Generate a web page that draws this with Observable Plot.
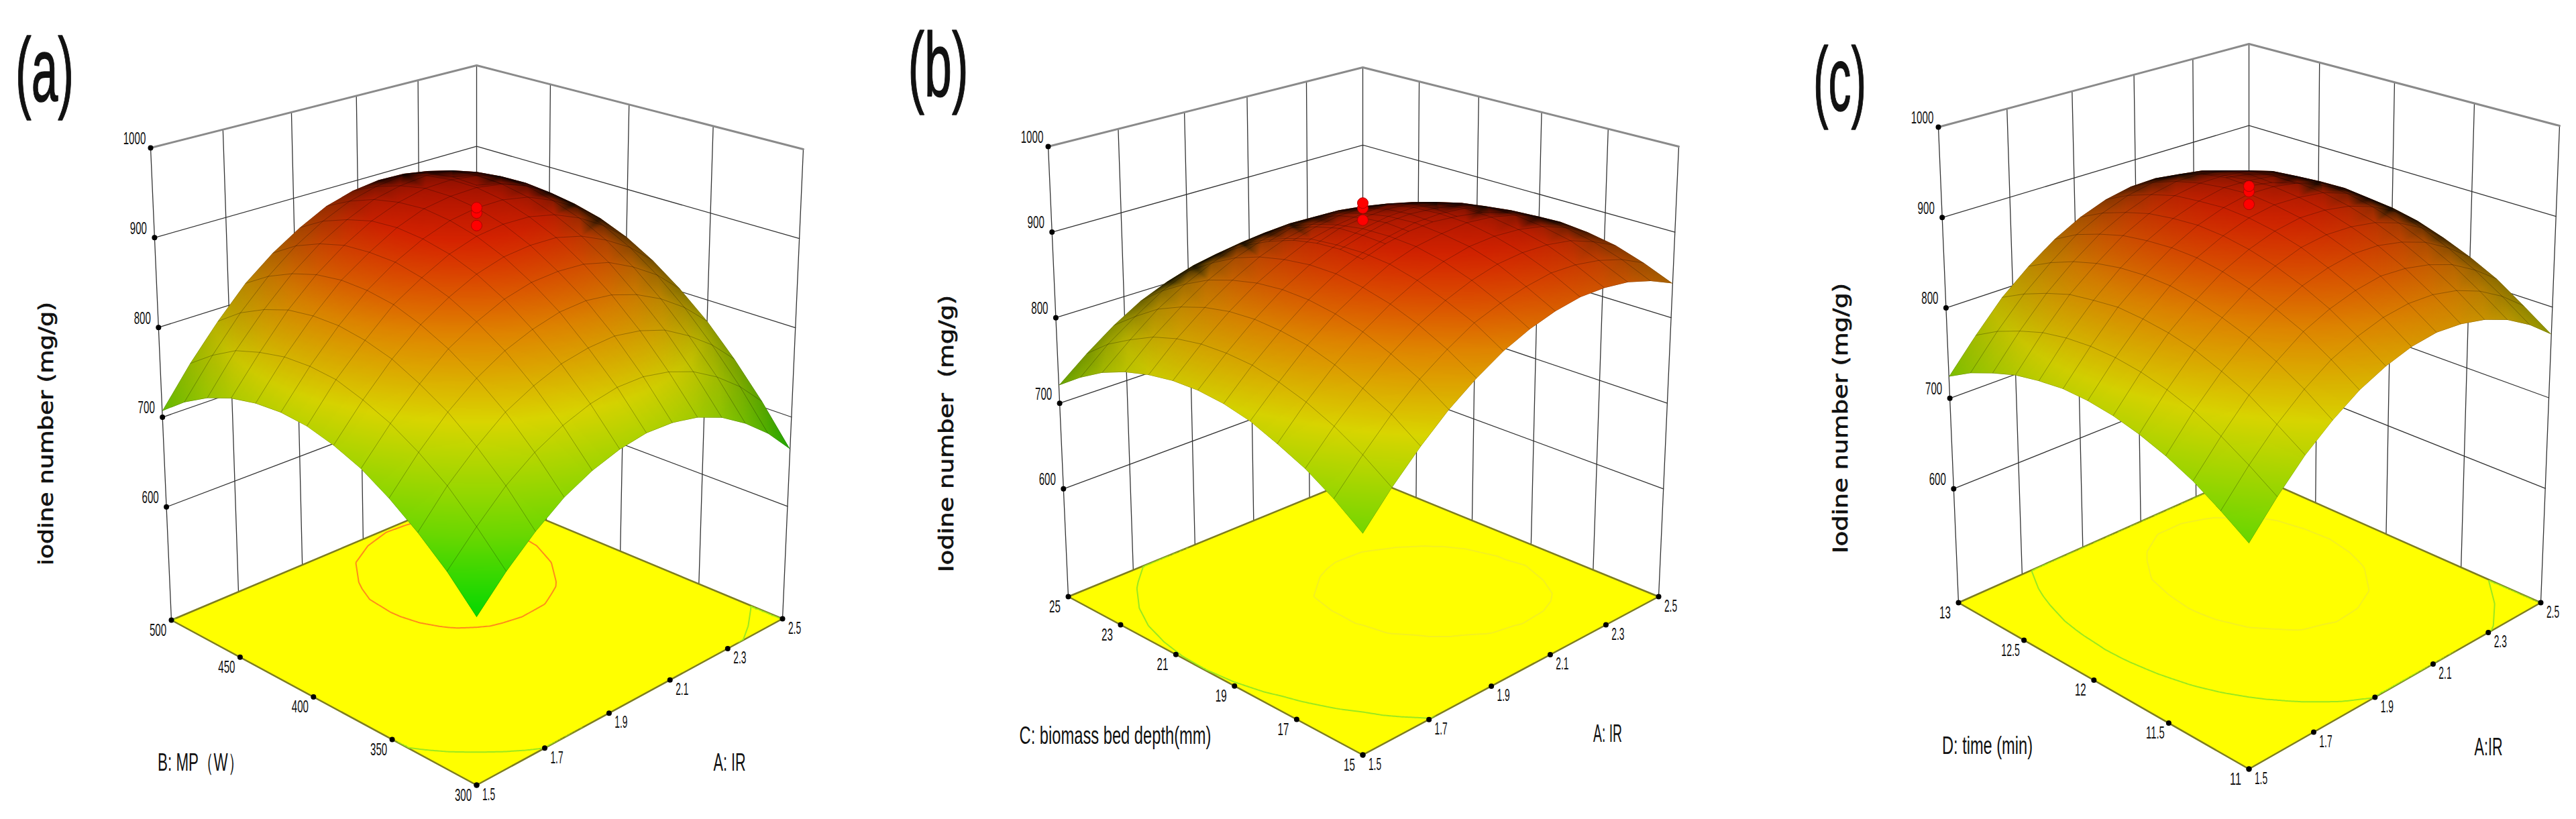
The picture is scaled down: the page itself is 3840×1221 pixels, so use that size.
<!DOCTYPE html>
<html><head><meta charset="utf-8">
<style>html,body{margin:0;padding:0;background:#fff}svg{display:block}</style>
<script src="https://cdn.jsdelivr.net/npm/d3@7"></script>
<script src="https://cdn.jsdelivr.net/npm/@observablehq/plot@0.6"></script>
</head><body><div id="chart"></div>
<script>
// ---- values ----
const zTicks = [600, 700, 800, 900, 1000];
const irTicks = [1.5, 1.7, 1.9, 2.1, 2.3, 2.5];
const mpTicks = [300, 350, 400, 450, 500];
const depthTicks = [15, 17, 19, 21, 23, 25];
const timeTicks = [11, 11.5, 12, 12.5, 13];
const designPoints = [914, 928, 934];
// rows: second factor low -> high; columns: A:IR 1.5 -> 2.5
const surfaceA = [
[642,674,701,723,738,748,753,752,746,734,716,693,664],
[674,706,735,757,773,784,790,790,784,773,756,734,706],
[700,735,763,787,803,815,821,823,818,808,791,770,743],
[722,757,787,811,829,841,849,851,847,837,822,802,776],
[740,775,805,831,849,863,871,873,871,863,848,829,803],
[752,788,820,846,865,880,889,892,891,883,869,851,826],
[760,798,829,857,876,892,902,906,905,898,885,867,844],
[763,801,834,862,883,899,910,915,915,909,896,879,857],
[761,800,834,863,884,902,914,919,920,915,904,887,865],
[755,794,830,859,882,900,912,919,920,916,906,890,870],
[744,785,820,850,874,892,906,913,916,913,903,889,869],
[728,769,806,837,862,881,895,903,907,904,896,882,863],
[707,749,786,819,844,864,880,889,893,892,884,871,852]];
const surfaceB = [
[706,741,772,799,821,839,852,861,866,866,862,853,840],
[729,763,794,820,841,859,870,878,883,882,877,868,854],
[748,781,810,836,857,873,885,893,896,895,890,879,865],
[762,795,824,849,869,885,896,903,905,903,897,886,871],
[774,805,834,858,877,893,903,908,911,908,901,890,874],
[781,812,839,863,882,896,905,911,912,909,901,888,872],
[784,814,841,864,882,895,904,909,910,905,897,884,867],
[783,813,839,861,878,892,899,903,904,898,889,876,858],
[778,808,833,854,871,883,890,894,893,887,878,863,844],
[770,799,823,844,860,871,878,880,879,873,862,847,828],
[758,785,810,829,844,856,861,863,861,854,842,827,807],
[741,769,791,811,825,835,840,842,839,831,820,802,782],
[721,747,770,789,802,812,816,817,813,805,792,775,753]];
const surfaceC = [
[696,729,758,781,800,813,822,826,824,818,807,791,770],
[715,748,777,801,820,833,842,846,845,839,828,812,791],
[732,765,795,818,838,851,860,865,863,857,847,831,811],
[745,779,808,832,851,865,874,879,878,872,862,846,826],
[755,789,819,842,862,876,886,890,889,884,874,859,838],
[762,796,826,850,870,884,894,899,898,893,883,868,848],
[766,800,830,855,875,889,899,904,903,899,889,874,854],
[767,801,832,856,876,891,901,907,906,901,892,877,857],
[764,799,829,854,874,889,899,905,904,900,891,876,857],
[759,794,825,849,870,885,896,901,901,897,888,873,854],
[750,785,816,841,862,877,888,894,894,889,880,866,847],
[739,774,805,830,852,867,878,884,884,880,871,858,839],
[724,759,791,816,837,853,864,870,871,867,858,845,826]];

// ---- view set-up for each box: where its corners fall on the page ----
const zFloor = 474, zTop = 1000;
const panels = [
 {key:"a", surface:surfaceA, vTicks:mpTicks, vTitle:"B: MP（W）", aTitle:"A: IR", zTitle:"iodine number (mg/g)",
  floor:[[710,1170],[1166,922],[710,732],[255,924]], top:[[710,386],[1197,222],[710,97],[224,220]],
  letter:[66,107], letterW:87, vPos:[298,1137], vW:127, aPos:[1087,1137], aW:48, zPos:[69,646], zW:393, green:710, inner:895, innerColor:"#ff8c1a"},
 {key:"b", surface:surfaceB, vTicks:depthTicks, vTitle:"C: biomass bed depth(mm)", aTitle:"A: IR", zTitle:"Iodine number  (mg/g)",
  floor:[[2031,1125],[2472,889],[2031,709],[1592,889]], top:[[2031,377],[2502,218],[2031,100],[1562,218]],
  letter:[1398,99], letterW:90, vPos:[1662,1097], vW:286, aPos:[2396,1094], aW:43, zPos:[1411,646], zW:413, green:785, inner:892, innerColor:"#f4f020"},
 {key:"c", surface:surfaceC, vTicks:timeTicks, vTitle:"D: time (min)", aTitle:"A:IR", zTitle:"Iodine number (mg/g)",
  floor:[[3352,1146],[3787,898],[3352,705],[2919,898]], top:[[3352,349],[3815,187],[3352,65],[2889,189]],
  letter:[2742,121], letterW:79, vPos:[2962,1112], vW:135, aPos:[3709,1114], aW:42, zPos:[2744,623], zW:403, green:810, inner:884, innerColor:"#f4f020"}
];

function homography([p0,p1,p2,p3]) {
  const sx=p0[0]-p1[0]+p2[0]-p3[0], sy=p0[1]-p1[1]+p2[1]-p3[1];
  const dx1=p1[0]-p2[0], dx2=p3[0]-p2[0], dy1=p1[1]-p2[1], dy2=p3[1]-p2[1];
  const det=dx1*dy2-dx2*dy1, g=(sx*dy2-dx2*sy)/det, h=(dx1*sy-sx*dy1)/det;
  const a=p1[0]-p0[0]+g*p1[0], b=p3[0]-p0[0]+h*p3[0], d=p1[1]-p0[1]+g*p1[1], e=p3[1]-p0[1]+h*p3[1];
  return (u,v)=>{const w=g*u+h*v+1; return [(a*u+b*v+p0[0])/w,(d*u+e*v+p0[1])/w];};
}
const sansFont = "'Liberation Sans',sans-serif";
const SVGNS = "http://www.w3.org/2000/svg";
function clipTo(id, d) {
  return (index, scales, values, dims, ctx, next) => {
    const g = next(index, scales, values, dims, ctx);
    const cp = document.createElementNS(SVGNS,"clipPath"); cp.setAttribute("id",id);
    const p = document.createElementNS(SVGNS,"path"); p.setAttribute("d",d); cp.appendChild(p);
    g.appendChild(cp); g.setAttribute("clip-path",`url(#${id})`);
    return g;
  };
}
// condense text to a given run length (function of the string)
function fitText(lenOf) {
  return (index, scales, values, dims, ctx, next) => {
    const g = next(index, scales, values, dims, ctx);
    g.querySelectorAll("text").forEach(t=>{
      t.setAttribute("textLength", lenOf(t.textContent));
      t.setAttribute("lengthAdjust","spacingAndGlyphs");
    });
    return g;
  };
}
const tickLen = s => s.length * 8.4 - (s.includes(".") ? 6 : 0);
const signedArea = q => {let s=0;q.forEach((a,i)=>{const b=q[(i+1)%4];s+=a[0]*b[1]-b[0]*a[1];});return s/2;};
const quadPath = q => {
  const o = signedArea(q)<0 ? q : [...q].reverse();
  return "M"+o.map(p=>p[0].toFixed(1)+","+p[1].toFixed(1)).join("L")+"Z";
};

function panelMarks(P) {
  const fl=homography(P.floor), tp=homography(P.top);
  const proj=(u,v,z)=>{const a=fl(u,v),b=tp(u,v),w=(z-zFloor)/(zTop-zFloor); return [a[0]+w*(b[0]-a[0]),a[1]+w*(b[1]-a[1])];};
  const n=P.surface.length-1;
  const pt=P.surface.map((row,j)=>row.map((z,i)=>proj(i/n,j/n,z)));
  // which mesh cells face the viewer; the outline is the union of all of them
  const sign=Math.sign(signedArea([fl(0,0),fl(1,0),fl(1,1),fl(0,1)]));
  const front=new Set(), back=new Set(); let clip="";
  for(let j=0;j<n;j++)for(let i=0;i<n;i++){
    const q=[pt[j][i],pt[j][i+1],pt[j+1][i+1],pt[j+1][i]];
    clip+=quadPath(q);
    const tgt=Math.sign(signedArea(q))===sign?front:back;
    [[j,i],[j,i+1],[j+1,i+1],[j+1,i]].forEach(k=>tgt.add(k.join()));
  }
  // darkness of the fine mesh lines where the surface is foreshortened
  const meshN=60, lineW=0.75;
  const nodes=[],floorNodes=[];
  P.surface.forEach((row,j)=>row.forEach((z,i)=>{
    const a=pt[j][Math.max(i-1,0)],b=pt[j][Math.min(i+1,n)],c=pt[Math.max(j-1,0)][i],d=pt[Math.min(j+1,n)][i];
    const du=(Math.min(i+1,n)-Math.max(i-1,0))/n, dv=(Math.min(j+1,n)-Math.max(j-1,0))/n;
    const ux=(b[0]-a[0])/du,uy=(b[1]-a[1])/du,vx=(d[0]-c[0])/dv,vy=(d[1]-c[1])/dv;
    const cross=Math.abs(ux*vy-uy*vx), s1=cross/Math.hypot(vx,vy)/meshN, s2=cross/Math.hypot(ux,uy)/meshN;
    let cov=1-Math.max(0,1-lineW/s1)*Math.max(0,1-lineW/s2);
    const k=[j,i].join();
    if(front.has(k)&&back.has(k)) cov=0.95;
    const [x,y]=pt[j][i];
    if(front.has(k)) nodes.push({x,y,z,cov});
    const f=fl(i/n,j/n); floorNodes.push({x:f[0],y:f[1],z});
  }));
  const bx=P.floor.concat(P.top).map(p=>p[0]), by=P.floor.concat(P.top).map(p=>p[1]);
  const box={x1:d3.min(bx)-20,x2:d3.max(bx)+20,y1:d3.min(by)-20,y2:d3.max(by)+20};
  const colLines=[];for(let i=0;i<=n;i++)for(let j=0;j<=n;j++)colLines.push({x:pt[j][i][0],y:pt[j][i][1],id:"c"+i});
  const rowLines=[];for(let j=0;j<=n;j++)for(let i=0;i<=n;i++)rowLines.push({x:pt[j][i][0],y:pt[j][i][1],id:"r"+j});
  // walls
  const wall=[];
  zTicks.forEach(z=>{[[0,1],[1,1],[1,0]].forEach(([u,v])=>{const p=proj(u,v,z);wall.push({x:p[0],y:p[1],id:"z"+z,z});});});
  const vert=(id,u,v)=>{[zFloor,zTop].forEach(z=>{const p=proj(u,v,z);wall.push({x:p[0],y:p[1],id,z:0});});};
  vert("e0",0,1);vert("e1",1,1);vert("e2",1,0);
  const A0=irTicks[0],A1=irTicks[irTicks.length-1],V=P.vTicks,V0=V[0],V1=V[V.length-1];
  const ua=a=>(a-A0)/(A1-A0), vb=b=>(b-V0)/(V1-V0);
  irTicks.slice(1,-1).forEach(a=>vert("a"+a,ua(a),1));
  V.slice(1,-1).forEach(b=>vert("b"+b,1,vb(b)));
  const floorOut=[[0,0],[1,0],[1,1],[0,1],[0,0]].map(([u,v])=>{const p=fl(u,v);return{x:p[0],y:p[1]};});
  const floorClip=quadPath([fl(0,0),fl(1,0),fl(1,1),fl(0,1)]);
  const zLab=zTicks.map(z=>{const p=proj(0,1,z);return{x:p[0],y:p[1],t:String(z)};});
  const aLab=irTicks.map(a=>{const p=fl(ua(a),0);return{x:p[0],y:p[1],t:a.toFixed(1)};});
  const vLab=V.map(b=>{const p=fl(0,vb(b));return{x:p[0],y:p[1],t:String(b)};});
  const design=designPoints.map(z=>{const p=proj(.5,.5,z);return{x:p[0],y:p[1]};});
  const txt=(a,o)=>Plot.text(a,{x:"x",y:"y",text:"t",fontFamily:sansFont,fill:"#111",...o});
  const one=(pos,t)=>[{x:pos[0],y:pos[1],t}];
  return [
    Plot.line(wall.filter(d=>d.z!==1000),{x:"x",y:"y",z:"id",stroke:"#333",strokeWidth:1.3}),
    Plot.line(wall.filter(d=>d.z===1000),{x:"x",y:"y",z:"id",stroke:"#8a8a8a",strokeWidth:3}),
    Plot.line(floorOut,{x:"x",y:"y",fill:"#ffff00",stroke:"#7d7d20",strokeWidth:2.5}),
    Plot.contour(floorNodes,{x:"x",y:"y",value:"z",thresholds:[P.green],interpolate:"barycentric",pixelSize:2,...box,fill:"none",stroke:"#9be81e",strokeWidth:2,render:clipTo("fg"+P.key,floorClip)}),
    Plot.contour(floorNodes,{x:"x",y:"y",value:"z",thresholds:[P.inner],interpolate:"barycentric",pixelSize:2,...box,fill:"none",stroke:P.innerColor,strokeWidth:2,render:clipTo("fi"+P.key,floorClip)}),
    Plot.raster(nodes,{x:"x",y:"y",fill:"z",interpolate:"barycentric",pixelSize:2,...box,render:clipTo("s"+P.key,clip)}),
    Plot.raster(nodes,{x:"x",y:"y",fill:"#000",fillOpacity:"cov",interpolate:"barycentric",pixelSize:2,...box,render:clipTo("d"+P.key,clip)}),
    Plot.line(rowLines,{x:"x",y:"y",z:"id",stroke:"#000",strokeOpacity:.28,strokeWidth:1,render:clipTo("mr"+P.key,clip)}),
    Plot.line(colLines,{x:"x",y:"y",z:"id",stroke:"#000",strokeOpacity:.28,strokeWidth:1,render:clipTo("mc"+P.key,clip)}),
    Plot.dot(design,{x:"x",y:"y",r:8,fill:"#ff0000",stroke:"#b00000",strokeWidth:1}),
    Plot.dot(zLab.concat(aLab,vLab),{x:"x",y:"y",r:4,fill:"#000"}),
    txt(zLab,{fontSize:26,dx:-24,dy:-14,render:fitText(tickLen)}),
    txt(aLab,{fontSize:26,dx:18,dy:14,render:fitText(tickLen)}),
    txt(vLab,{fontSize:26,dx:-20,dy:15,render:fitText(tickLen)}),
    txt(one(P.vPos,P.vTitle),{fontSize:37,render:fitText(()=>P.vW)}),
    txt(one(P.aPos,P.aTitle),{fontSize:37,render:fitText(()=>P.aW)}),
    Plot.text(one(P.zPos,P.zTitle),{x:"x",y:"y",text:"t",rotate:-90,fontSize:31,fontFamily:"'DejaVu Sans',sans-serif",fill:"#111",stroke:"#111",strokeWidth:.7,render:fitText(()=>P.zW)}),
    txt(one(P.letter,`(${P.key})`),{fontSize:136,stroke:"#111",strokeWidth:1.5,render:fitText(()=>P.letterW)})
  ];
}

const chart = Plot.plot({
  width:3840, height:1221, margin:0,
  x:{domain:[0,3840],range:[0,3840],axis:null},
  y:{domain:[0,1221],range:[0,1221],axis:null},
  opacity:{domain:[0,1],range:[0,1]},
  color:{type:"linear",domain:[640,700,780,840,900,960],range:["#00f000","#78f000","#f4f000","#ff9800","#ff2a00","#c00000"]},
  style:{background:"#fff"},
  marks:panels.flatMap(panelMarks)
});
document.getElementById("chart").appendChild(chart);
</script></body></html>
